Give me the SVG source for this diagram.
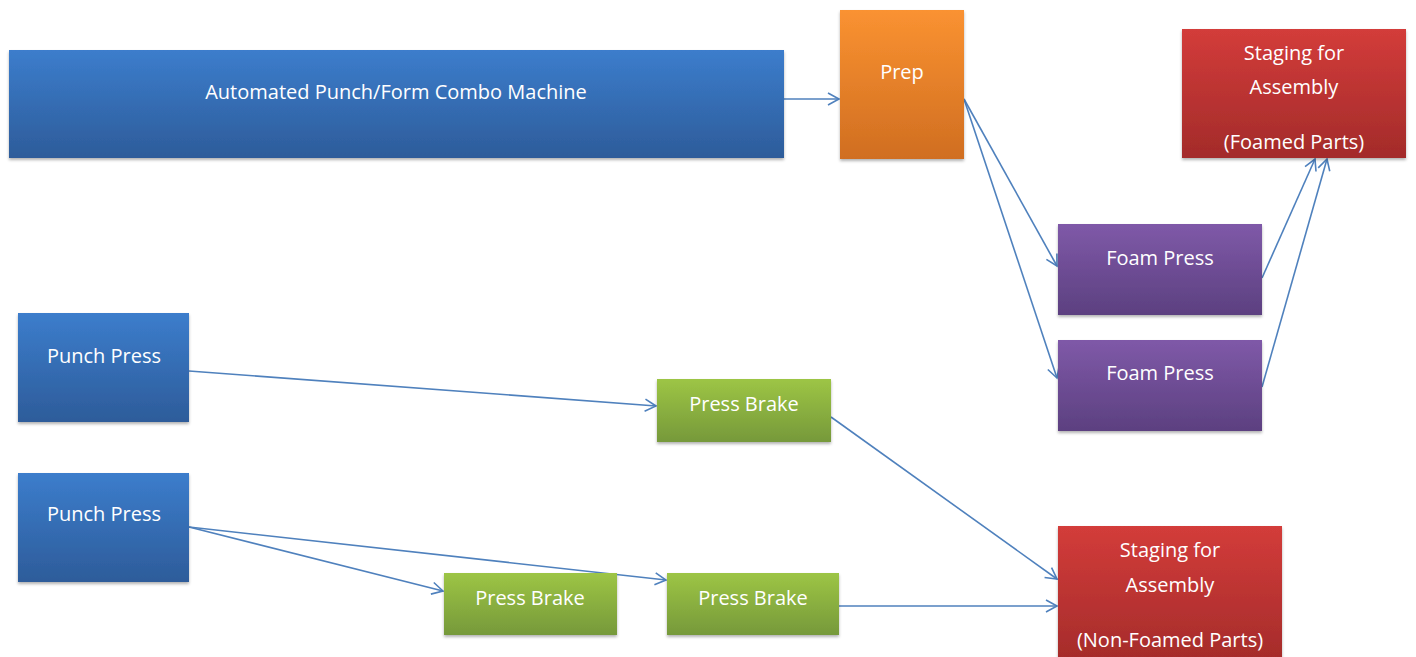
<svg xmlns="http://www.w3.org/2000/svg" width="1416" height="657" viewBox="0 0 1416 657">
<defs>
<linearGradient id="gBlue" x1="0" y1="0" x2="0" y2="1"><stop offset="0" stop-color="#3c7dcc"/><stop offset="1" stop-color="#2d5c9a"/></linearGradient>
<linearGradient id="gOrange" x1="0" y1="0" x2="0" y2="1"><stop offset="0" stop-color="#fa9231"/><stop offset="1" stop-color="#d06e21"/></linearGradient>
<linearGradient id="gRed" x1="0" y1="0" x2="0" y2="1"><stop offset="0" stop-color="#d33c3a"/><stop offset="1" stop-color="#a32b2a"/></linearGradient>
<linearGradient id="gPurple" x1="0" y1="0" x2="0" y2="1"><stop offset="0" stop-color="#7f59a8"/><stop offset="1" stop-color="#5c4080"/></linearGradient>
<linearGradient id="gGreen" x1="0" y1="0" x2="0" y2="1"><stop offset="0" stop-color="#9dc545"/><stop offset="1" stop-color="#76993a"/></linearGradient>
<filter id="sh" x="-5%" y="-5%" width="110%" height="115%"><feDropShadow dx="0" dy="2" stdDeviation="1.5" flood-color="#000" flood-opacity="0.3"/></filter>
<marker id="arr" markerUnits="userSpaceOnUse" markerWidth="14" markerHeight="14" refX="12" refY="7" orient="auto"><path d="M1,1 L12,7 L1,13" fill="none" stroke="#4f81bd" stroke-width="1.6"/></marker>
</defs>
<style>
.box{filter:url(#sh);stroke-width:1}
.t{font-family:"Open Sans","Liberation Sans",sans-serif;font-size:20px;fill:#ffffff;text-anchor:middle}
.c{fill:none;stroke:#4f81bd;stroke-width:1.6;marker-end:url(#arr)}
</style>
<rect width="1416" height="657" fill="#ffffff"/>
<g id="connectors">
<line class="c" x1="784" y1="99" x2="839" y2="99"/>
<line class="c" x1="964" y1="99" x2="1057" y2="266"/>
<line class="c" x1="964" y1="99" x2="1057" y2="378"/>
<line class="c" x1="1262" y1="278" x2="1315" y2="159"/>
<line class="c" x1="1262" y1="387" x2="1327" y2="159"/>
<line class="c" x1="189" y1="371" x2="656" y2="406"/>
<line class="c" x1="189" y1="527" x2="443" y2="591"/>
<line class="c" x1="189" y1="527" x2="666" y2="580"/>
<line class="c" x1="831" y1="417" x2="1057" y2="579"/>
<line class="c" x1="839" y1="606" x2="1057" y2="606"/>
</g>
<g id="automated">
<rect class="box" x="9" y="50" width="775" height="108" fill="url(#gBlue)"/>
<text class="t" x="396" y="99">Automated Punch/Form Combo Machine</text>
</g>
<g id="prep">
<rect class="box" x="840" y="10" width="124" height="149" fill="url(#gOrange)"/>
<text class="t" x="902" y="79">Prep</text>
</g>
<g id="staging-foamed">
<rect class="box" x="1182" y="29" width="224" height="129" fill="url(#gRed)"/>
<text class="t" x="1294" y="60">Staging for</text>
<text class="t" x="1294" y="94">Assembly</text>
<text class="t" x="1294" y="149">(Foamed Parts)</text>
</g>
<g id="foam-press-1">
<rect class="box" x="1058" y="224" width="204" height="91" fill="url(#gPurple)"/>
<text class="t" x="1160" y="265">Foam Press</text>
</g>
<g id="foam-press-2">
<rect class="box" x="1058" y="340" width="204" height="91" fill="url(#gPurple)"/>
<text class="t" x="1160" y="380">Foam Press</text>
</g>
<g id="punch-press-1">
<rect class="box" x="18" y="313" width="171" height="109" fill="url(#gBlue)"/>
<text class="t" x="104" y="363">Punch Press</text>
</g>
<g id="punch-press-2">
<rect class="box" x="18" y="473" width="171" height="109" fill="url(#gBlue)"/>
<text class="t" x="104" y="521">Punch Press</text>
</g>
<g id="press-brake-1">
<rect class="box" x="657" y="379" width="174" height="63" fill="url(#gGreen)"/>
<text class="t" x="744" y="411">Press Brake</text>
</g>
<g id="press-brake-2">
<rect class="box" x="444" y="573" width="173" height="62" fill="url(#gGreen)"/>
<text class="t" x="530" y="605">Press Brake</text>
</g>
<g id="press-brake-3">
<rect class="box" x="667" y="573" width="172" height="62" fill="url(#gGreen)"/>
<text class="t" x="753" y="605">Press Brake</text>
</g>
<g id="staging-nonfoamed">
<rect class="box" x="1058" y="526" width="224" height="140" fill="url(#gRed)"/>
<text class="t" x="1170" y="557">Staging for</text>
<text class="t" x="1170" y="592">Assembly</text>
<text class="t" x="1170" y="647">(Non-Foamed Parts)</text>
</g>
</svg>
